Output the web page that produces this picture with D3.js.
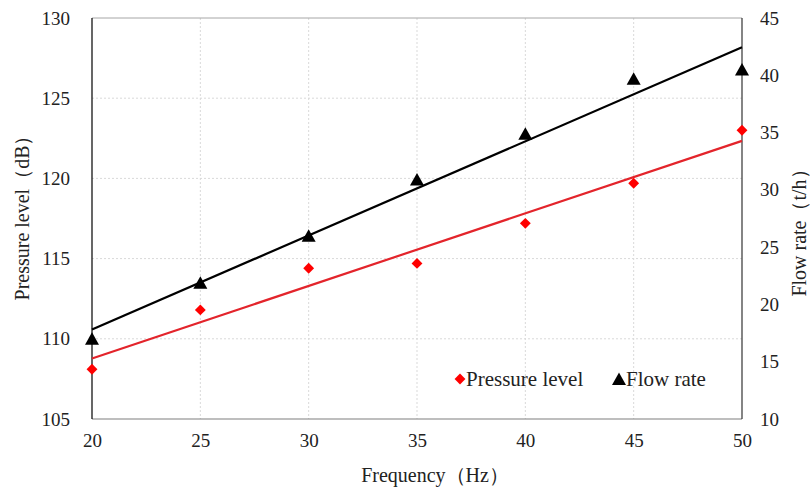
<!DOCTYPE html>
<html>
<head>
<meta charset="utf-8">
<script src="https://cdn.jsdelivr.net/npm/d3@7"></script>
<style>
  body { margin: 0; background: #fff; }
  .grid line { stroke: #d9d9d9; stroke-dasharray: 2,2; }
</style>
</head>
<body>
<svg id="chart" width="810" height="488"></svg>
<script>
// data
const frequency = [20, 25, 30, 35, 40, 45, 50]
const pressureLevel = [108.1, 111.8, 114.4, 114.7, 117.2, 119.7, 123.0]
const flowRate = [17.0, 21.9, 26.0, 30.9, 34.9, 39.7, 40.5]

const xTicks = [20, 25, 30, 35, 40, 45, 50]
const leftTicks = [105, 110, 115, 120, 125, 130]
const rightTicks = [10, 15, 20, 25, 30, 35, 40, 45]

const plotL = 92, plotR = 742, plotT = 18, plotB = 419
const serif = 'Liberation Serif, Tinos, Times New Roman, DejaVu Serif, serif'

let svg = d3.select('#chart')

let x = d3.scaleLinear().domain([20, 50]).range([plotL, plotR])
let yL = d3.scaleLinear().domain([105, 130]).range([plotB, plotT])
let yR = d3.scaleLinear().domain([10, 45]).range([plotB, plotT])

// gridlines
let grid = svg.append('g').attr('class', 'grid')
grid.selectAll('.h')
.data(leftTicks.slice(1, -1))
.enter()
.append('line')
.attr('x1', plotL).attr('x2', plotR)
.attr('y1', d => yL(d)).attr('y2', d => yL(d))

grid.selectAll('.v')
.data(xTicks.slice(1, -1))
.enter()
.append('line')
.attr('x1', d => x(d)).attr('x2', d => x(d))
.attr('y1', plotT).attr('y2', plotB)

// frame
svg.append('line').attr('x1', plotL).attr('x2', plotR).attr('y1', plotT).attr('y2', plotT)
.attr('stroke', '#a6a6a6').attr('stroke-width', 1)
svg.append('line').attr('x1', plotL).attr('x2', plotR).attr('y1', plotB).attr('y2', plotB)
.attr('stroke', '#7f7f7f').attr('stroke-width', 1.2)
svg.append('line').attr('x1', plotL).attr('x2', plotL).attr('y1', plotT).attr('y2', plotB)
.attr('stroke', '#000').attr('stroke-width', 1.2)
svg.append('line').attr('x1', plotR).attr('x2', plotR).attr('y1', plotT).attr('y2', plotB)
.attr('stroke', '#333').attr('stroke-width', 1.2)

// axes (labels only)
let xAxis = svg.append('g')
.attr('transform', 'translate(0,' + plotB + ')')
.call(d3.axisBottom(x).tickValues(xTicks).tickSize(0).tickPadding(15))
let lAxis = svg.append('g')
.attr('transform', 'translate(' + plotL + ',0)')
.call(d3.axisLeft(yL).tickValues(leftTicks).tickSize(0).tickPadding(22))
let rAxis = svg.append('g')
.attr('transform', 'translate(' + plotR + ',0)')
.call(d3.axisRight(yR).tickValues(rightTicks).tickSize(0).tickPadding(18))

;[xAxis, lAxis, rAxis].forEach(a => {
	a.attr('font-family', serif).attr('font-size', 19)
	a.select('.domain').remove()
	a.selectAll('text').attr('fill', '#222')
})

// trend lines (least squares)
function fit(xs, ys){
	let mx = d3.mean(xs), my = d3.mean(ys)
	let sxy = d3.sum(xs, (v, i) => (v - mx) * (ys[i] - my))
	let sxx = d3.sum(xs, v => (v - mx) * (v - mx))
	let b = sxy / sxx
	return v => my + b * (v - mx)
}

let pFit = fit(frequency, pressureLevel)
let fFit = fit(frequency, flowRate)

svg.append('line')
.attr('x1', x(20)).attr('y1', yL(pFit(20)))
.attr('x2', x(50)).attr('y2', yL(pFit(50)))
.attr('stroke', '#e3242b').attr('stroke-width', 2.2)

svg.append('line')
.attr('x1', x(20)).attr('y1', yR(fFit(20)))
.attr('x2', x(50)).attr('y2', yR(fFit(50)))
.attr('stroke', '#000').attr('stroke-width', 2.2)

// markers
let diamond = d3.symbol().type(d3.symbolDiamond2).size(75)
// triangle centred on its box, not its centroid
let triangle = 'M0,-6.5L7,6L-7,6Z'

svg.append('g')
.selectAll('path')
.data(frequency)
.enter()
.append('path')
.attr('d', diamond)
.attr('transform', (d, i) => 'translate(' + x(d) + ',' + yL(pressureLevel[i]) + ')')
.attr('fill', '#ff0000')

svg.append('g')
.selectAll('path')
.data(frequency)
.enter()
.append('path')
.attr('d', triangle)
.attr('transform', (d, i) => 'translate(' + x(d) + ',' + yR(flowRate[i]) + ')')
.attr('fill', '#000')

// legend
let legend = svg.append('g').attr('transform', 'translate(460,379)')
.attr('font-family', serif).attr('font-size', 21).attr('fill', '#222')
legend.append('path').attr('d', diamond).attr('fill', '#ff0000')
legend.append('text').attr('x', 6).attr('y', 7).text('Pressure level')
legend.append('path').attr('d', triangle).attr('fill', '#000').attr('transform', 'translate(159,0)')
legend.append('text').attr('x', 166).attr('y', 7).text('Flow rate')

// axis titles
let titles = svg.append('g').attr('font-family', serif).attr('font-size', 20).attr('fill', '#222')

titles.append('text')
.attr('x', 435).attr('y', 482)
.attr('text-anchor', 'middle')
.text('Frequency（Hz）')

titles.append('text')
.attr('transform', 'translate(29,213) rotate(-90)')
.attr('text-anchor', 'middle')
.text('Pressure level（dB）')

titles.append('text')
.attr('transform', 'translate(806,228) rotate(-90)')
.attr('text-anchor', 'middle')
.text('Flow rate（t/h）')
</script>
</body>
</html>
